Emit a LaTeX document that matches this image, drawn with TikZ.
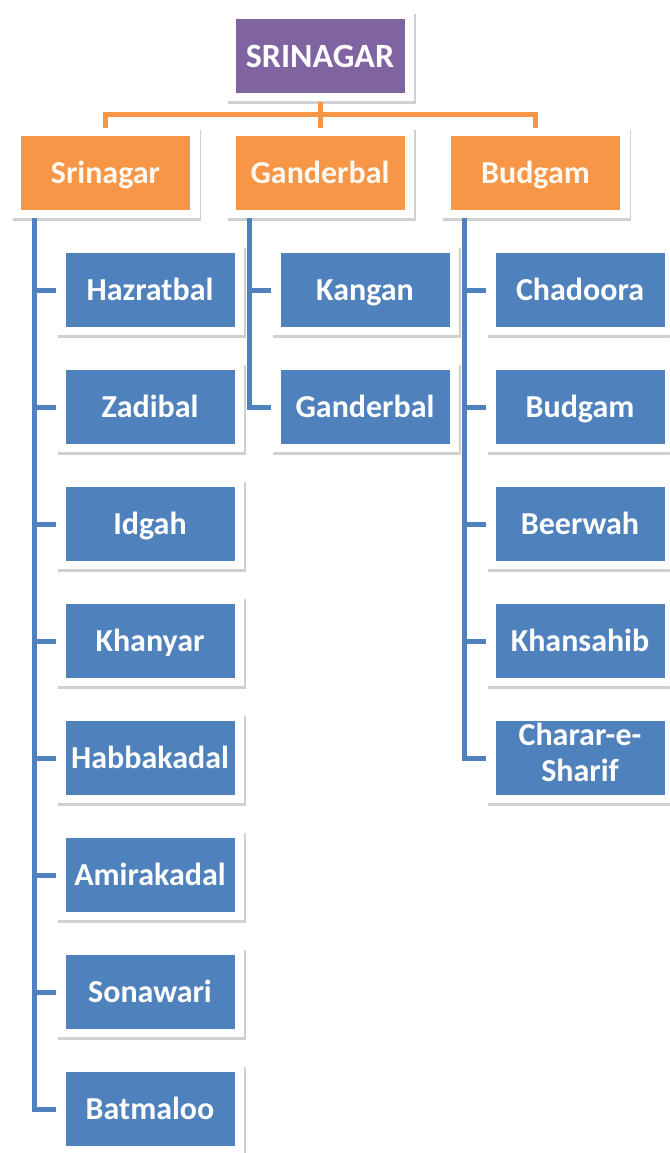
\documentclass[tikz,border=0pt]{standalone}
\usepackage{fontspec}
\setmainfont{Carlito}
\usetikzlibrary{shadows}
\definecolor{pur}{HTML}{8064A2}
\definecolor{org}{HTML}{F79646}
\definecolor{blu}{HTML}{4F81BD}
\tikzset{
  box/.style={fill=white, minimum width=188pt, minimum height=90pt, inner sep=0pt,
    text=white, font=\fontsize{32}{36}\selectfont\bfseries, align=center,
    text height=20.2pt, text depth=0pt,
    drop shadow={shadow xshift=1.5pt, shadow yshift=-2.5pt, opacity=0.3, fill=black!60},
    path picture={\fill[#1] ([shift={(9.5pt,8pt)}]path picture bounding box.south west) rectangle ([shift={(-9.5pt,-8pt)}]path picture bounding box.north east);}},
  topbox/.style={box=pur, font=\fontsize{34}{36}\selectfont\bfseries, text height=21.5pt},
  distbox/.style={box=org, text=orange!5},
  subbox/.style={box=blu},
  oline/.style={draw=org, line width=5pt},
  bline/.style={draw=blu, line width=5pt},
}
\begin{document}
\begin{tikzpicture}[x=1pt,y=-1pt]
\useasboundingbox[fill=white] (0,0) rectangle (669,1153);
\node[topbox] (top) at (320,56.5) {SRINAGAR};
\node[distbox] (s) at (105.5,173) {Srinagar};
\node[distbox] (g) at (320,173) {Ganderbal};
\node[distbox] (b) at (535.5,173) {Budgam};
\coordinate (bar) at (320,115);
\draw[oline] (s.north) |- (bar) -| (b.north);
\draw[oline] (top.south) -- (g.north);
% Srinagar column
\node[subbox] (s1) at (150,290) {Hazratbal};
\node[subbox] (s2) at (150,407) {Zadibal};
\node[subbox] (s3) at (150,524) {Idgah};
\node[subbox] (s4) at (150,641) {Khanyar};
\node[subbox] (s5) at (150,758) {Habbakadal};
\node[subbox] (s6) at (150,875) {Amirakadal};
\node[subbox] (s7) at (150,992) {Sonawari};
\node[subbox] (s8) at (150,1109) {Batmaloo};
% Ganderbal column
\node[subbox] (g1) at (365,290) {Kangan};
\node[subbox] (g2) at (365,407) {Ganderbal};
% Budgam column
\node[subbox] (b1) at (580,290) {Chadoora};
\node[subbox] (b2) at (580,407) {Budgam};
\node[subbox] (b3) at (580,524) {Beerwah};
\node[subbox] (b4) at (580,641) {Khansahib};
\node[subbox, text height=56.2pt, text depth=10pt] (b5) at (580,758) {Charar-e-\\Sharif};
\coordinate (sl) at ([xshift=23.5pt]s.south west);
\coordinate (gl) at ([xshift=23.5pt]g.south west);
\coordinate (bl) at ([xshift=23.5pt]b.south west);
\foreach \c in {s1,s2,s3,s4,s5,s6,s7,s8} \draw[bline] (sl) |- (\c.west);
\foreach \c in {g1,g2} \draw[bline] (gl) |- (\c.west);
\foreach \c in {b1,b2,b3,b4,b5} \draw[bline] (bl) |- (\c.west);
\end{tikzpicture}
\end{document}
